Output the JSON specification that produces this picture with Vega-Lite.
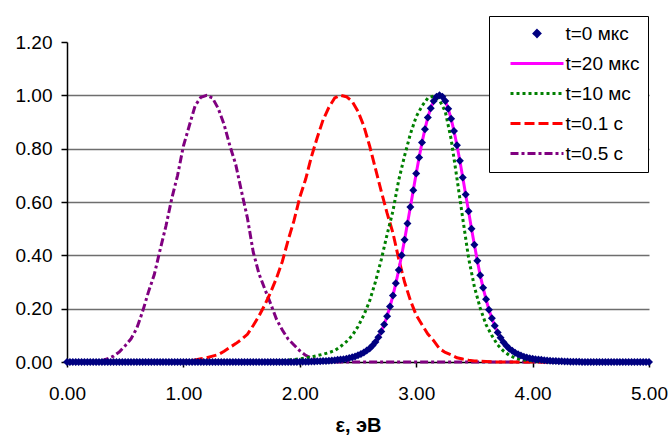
{
"$schema": "https://vega.github.io/schema/vega-lite/v6.json",
"width": 582, "height": 320,
"autosize": "none",
"padding": {"left": 67, "top": 42, "right": 20, "bottom": 74},
"background": "white",
"config": {"font": "Liberation Sans", "view": {"stroke": null},
  "legend": {"orient": "none", "legendX": 422, "legendY": -26, "strokeColor": "black", "fillColor": "white", "padding": 8, "cornerRadius": 0,
    "labelFont": "Liberation Sans", "labelFontSize": 19, "labelColor": "black", "labelOffset": 19, "labelLimit": 300,
    "symbolSize": 256, "symbolStrokeWidth": 3, "symbolOffset": 30.5, "rowPadding": 10}},
"datasets": {
"dots": [
{"s":"t=0 мкс","x":0,"y":0},{"s":"t=0 мкс","x":0.025,"y":0},{"s":"t=0 мкс","x":0.05,"y":0},{"s":"t=0 мкс","x":0.075,"y":0},{"s":"t=0 мкс","x":0.1,"y":0},{"s":"t=0 мкс","x":0.125,"y":0},{"s":"t=0 мкс","x":0.15,"y":0},{"s":"t=0 мкс","x":0.175,"y":0},{"s":"t=0 мкс","x":0.2,"y":0},{"s":"t=0 мкс","x":0.225,"y":0},{"s":"t=0 мкс","x":0.25,"y":0},{"s":"t=0 мкс","x":0.275,"y":0},{"s":"t=0 мкс","x":0.3,"y":0},{"s":"t=0 мкс","x":0.325,"y":0},{"s":"t=0 мкс","x":0.35,"y":0},{"s":"t=0 мкс","x":0.375,"y":0},{"s":"t=0 мкс","x":0.4,"y":0},{"s":"t=0 мкс","x":0.425,"y":0},{"s":"t=0 мкс","x":0.45,"y":0},{"s":"t=0 мкс","x":0.475,"y":0},
{"s":"t=0 мкс","x":0.5,"y":0},{"s":"t=0 мкс","x":0.525,"y":0},{"s":"t=0 мкс","x":0.55,"y":0},{"s":"t=0 мкс","x":0.575,"y":0},{"s":"t=0 мкс","x":0.6,"y":0},{"s":"t=0 мкс","x":0.625,"y":0},{"s":"t=0 мкс","x":0.65,"y":0},{"s":"t=0 мкс","x":0.675,"y":0},{"s":"t=0 мкс","x":0.7,"y":0},{"s":"t=0 мкс","x":0.725,"y":0},{"s":"t=0 мкс","x":0.75,"y":0},{"s":"t=0 мкс","x":0.775,"y":0},{"s":"t=0 мкс","x":0.8,"y":0},{"s":"t=0 мкс","x":0.825,"y":0},{"s":"t=0 мкс","x":0.85,"y":0},{"s":"t=0 мкс","x":0.875,"y":0},{"s":"t=0 мкс","x":0.9,"y":0},{"s":"t=0 мкс","x":0.925,"y":0},{"s":"t=0 мкс","x":0.95,"y":0},{"s":"t=0 мкс","x":0.975,"y":0},
{"s":"t=0 мкс","x":1,"y":0},{"s":"t=0 мкс","x":1.025,"y":0},{"s":"t=0 мкс","x":1.05,"y":0},{"s":"t=0 мкс","x":1.075,"y":0},{"s":"t=0 мкс","x":1.1,"y":0},{"s":"t=0 мкс","x":1.125,"y":0},{"s":"t=0 мкс","x":1.15,"y":0},{"s":"t=0 мкс","x":1.175,"y":0},{"s":"t=0 мкс","x":1.2,"y":0},{"s":"t=0 мкс","x":1.225,"y":0},{"s":"t=0 мкс","x":1.25,"y":0},{"s":"t=0 мкс","x":1.275,"y":0},{"s":"t=0 мкс","x":1.3,"y":0},{"s":"t=0 мкс","x":1.325,"y":0},{"s":"t=0 мкс","x":1.35,"y":0},{"s":"t=0 мкс","x":1.375,"y":0},{"s":"t=0 мкс","x":1.4,"y":0},{"s":"t=0 мкс","x":1.425,"y":0},{"s":"t=0 мкс","x":1.45,"y":0},{"s":"t=0 мкс","x":1.475,"y":0},
{"s":"t=0 мкс","x":1.5,"y":0},{"s":"t=0 мкс","x":1.525,"y":0},{"s":"t=0 мкс","x":1.55,"y":0},{"s":"t=0 мкс","x":1.575,"y":0},{"s":"t=0 мкс","x":1.6,"y":0},{"s":"t=0 мкс","x":1.625,"y":0},{"s":"t=0 мкс","x":1.65,"y":0},{"s":"t=0 мкс","x":1.675,"y":0},{"s":"t=0 мкс","x":1.7,"y":0},{"s":"t=0 мкс","x":1.725,"y":0},{"s":"t=0 мкс","x":1.75,"y":0},{"s":"t=0 мкс","x":1.775,"y":0},{"s":"t=0 мкс","x":1.8,"y":0},{"s":"t=0 мкс","x":1.825,"y":0},{"s":"t=0 мкс","x":1.85,"y":0},{"s":"t=0 мкс","x":1.875,"y":0},{"s":"t=0 мкс","x":1.9,"y":0},{"s":"t=0 мкс","x":1.925,"y":0},{"s":"t=0 мкс","x":1.95,"y":0},{"s":"t=0 мкс","x":1.975,"y":0},
{"s":"t=0 мкс","x":2,"y":0.001},{"s":"t=0 мкс","x":2.025,"y":0.001},{"s":"t=0 мкс","x":2.05,"y":0.001},{"s":"t=0 мкс","x":2.075,"y":0.001},{"s":"t=0 мкс","x":2.1,"y":0.002},{"s":"t=0 мкс","x":2.125,"y":0.002},{"s":"t=0 мкс","x":2.15,"y":0.003},{"s":"t=0 мкс","x":2.175,"y":0.003},{"s":"t=0 мкс","x":2.2,"y":0.004},{"s":"t=0 мкс","x":2.225,"y":0.004},{"s":"t=0 мкс","x":2.25,"y":0.005},{"s":"t=0 мкс","x":2.275,"y":0.006},{"s":"t=0 мкс","x":2.3,"y":0.007},{"s":"t=0 мкс","x":2.325,"y":0.008},{"s":"t=0 мкс","x":2.35,"y":0.009},{"s":"t=0 мкс","x":2.375,"y":0.01},{"s":"t=0 мкс","x":2.4,"y":0.012},{"s":"t=0 мкс","x":2.425,"y":0.015},{"s":"t=0 мкс","x":2.45,"y":0.018},{"s":"t=0 мкс","x":2.475,"y":0.021},
{"s":"t=0 мкс","x":2.5,"y":0.025},{"s":"t=0 мкс","x":2.525,"y":0.03},{"s":"t=0 мкс","x":2.55,"y":0.036},{"s":"t=0 мкс","x":2.575,"y":0.043},{"s":"t=0 мкс","x":2.6,"y":0.051},{"s":"t=0 мкс","x":2.625,"y":0.062},{"s":"t=0 мкс","x":2.65,"y":0.075},{"s":"t=0 мкс","x":2.675,"y":0.093},{"s":"t=0 мкс","x":2.7,"y":0.114},{"s":"t=0 мкс","x":2.725,"y":0.141},{"s":"t=0 мкс","x":2.75,"y":0.172},{"s":"t=0 мкс","x":2.775,"y":0.208},{"s":"t=0 мкс","x":2.8,"y":0.249},{"s":"t=0 мкс","x":2.825,"y":0.295},{"s":"t=0 мкс","x":2.85,"y":0.345},{"s":"t=0 мкс","x":2.875,"y":0.4},{"s":"t=0 мкс","x":2.9,"y":0.458},{"s":"t=0 мкс","x":2.925,"y":0.519},{"s":"t=0 мкс","x":2.95,"y":0.581},{"s":"t=0 мкс","x":2.975,"y":0.644},
{"s":"t=0 мкс","x":3,"y":0.707},{"s":"t=0 мкс","x":3.025,"y":0.767},{"s":"t=0 мкс","x":3.05,"y":0.823},{"s":"t=0 мкс","x":3.075,"y":0.873},{"s":"t=0 мкс","x":3.1,"y":0.917},{"s":"t=0 мкс","x":3.125,"y":0.952},{"s":"t=0 мкс","x":3.15,"y":0.979},{"s":"t=0 мкс","x":3.175,"y":0.995},{"s":"t=0 мкс","x":3.2,"y":1},{"s":"t=0 мкс","x":3.225,"y":0.995},{"s":"t=0 мкс","x":3.25,"y":0.979},{"s":"t=0 мкс","x":3.275,"y":0.95},{"s":"t=0 мкс","x":3.3,"y":0.912},{"s":"t=0 мкс","x":3.325,"y":0.866},{"s":"t=0 мкс","x":3.35,"y":0.813},{"s":"t=0 мкс","x":3.375,"y":0.755},{"s":"t=0 мкс","x":3.4,"y":0.692},{"s":"t=0 мкс","x":3.425,"y":0.628},{"s":"t=0 мкс","x":3.45,"y":0.565},{"s":"t=0 мкс","x":3.475,"y":0.5},
{"s":"t=0 мкс","x":3.5,"y":0.44},{"s":"t=0 мкс","x":3.525,"y":0.38},{"s":"t=0 мкс","x":3.55,"y":0.325},{"s":"t=0 мкс","x":3.575,"y":0.278},{"s":"t=0 мкс","x":3.6,"y":0.235},{"s":"t=0 мкс","x":3.625,"y":0.196},{"s":"t=0 мкс","x":3.65,"y":0.164},{"s":"t=0 мкс","x":3.675,"y":0.136},{"s":"t=0 мкс","x":3.7,"y":0.111},{"s":"t=0 мкс","x":3.725,"y":0.091},{"s":"t=0 мкс","x":3.75,"y":0.074},{"s":"t=0 мкс","x":3.775,"y":0.061},{"s":"t=0 мкс","x":3.8,"y":0.05},{"s":"t=0 мкс","x":3.825,"y":0.042},{"s":"t=0 мкс","x":3.85,"y":0.035},{"s":"t=0 мкс","x":3.875,"y":0.029},{"s":"t=0 мкс","x":3.9,"y":0.024},{"s":"t=0 мкс","x":3.925,"y":0.02},{"s":"t=0 мкс","x":3.95,"y":0.017},{"s":"t=0 мкс","x":3.975,"y":0.014},
{"s":"t=0 мкс","x":4,"y":0.012},{"s":"t=0 мкс","x":4.025,"y":0.01},{"s":"t=0 мкс","x":4.05,"y":0.009},{"s":"t=0 мкс","x":4.075,"y":0.008},{"s":"t=0 мкс","x":4.1,"y":0.007},{"s":"t=0 мкс","x":4.125,"y":0.006},{"s":"t=0 мкс","x":4.15,"y":0.005},{"s":"t=0 мкс","x":4.175,"y":0.004},{"s":"t=0 мкс","x":4.2,"y":0.004},{"s":"t=0 мкс","x":4.225,"y":0.003},{"s":"t=0 мкс","x":4.25,"y":0.003},{"s":"t=0 мкс","x":4.275,"y":0.002},{"s":"t=0 мкс","x":4.3,"y":0.002},{"s":"t=0 мкс","x":4.325,"y":0.001},{"s":"t=0 мкс","x":4.35,"y":0.001},{"s":"t=0 мкс","x":4.375,"y":0.001},{"s":"t=0 мкс","x":4.4,"y":0.001},{"s":"t=0 мкс","x":4.425,"y":0},{"s":"t=0 мкс","x":4.45,"y":0},{"s":"t=0 мкс","x":4.475,"y":0},
{"s":"t=0 мкс","x":4.5,"y":0},{"s":"t=0 мкс","x":4.525,"y":0},{"s":"t=0 мкс","x":4.55,"y":0},{"s":"t=0 мкс","x":4.575,"y":0},{"s":"t=0 мкс","x":4.6,"y":0},{"s":"t=0 мкс","x":4.625,"y":0},{"s":"t=0 мкс","x":4.65,"y":0},{"s":"t=0 мкс","x":4.675,"y":0},{"s":"t=0 мкс","x":4.7,"y":0},{"s":"t=0 мкс","x":4.725,"y":0},{"s":"t=0 мкс","x":4.75,"y":0},{"s":"t=0 мкс","x":4.775,"y":0},{"s":"t=0 мкс","x":4.8,"y":0},{"s":"t=0 мкс","x":4.825,"y":0},{"s":"t=0 мкс","x":4.85,"y":0},{"s":"t=0 мкс","x":4.875,"y":0},{"s":"t=0 мкс","x":4.9,"y":0},{"s":"t=0 мкс","x":4.925,"y":0},{"s":"t=0 мкс","x":4.95,"y":0},{"s":"t=0 мкс","x":4.975,"y":0},{"s":"t=0 мкс","x":5,"y":0}
],
"lines": [
{"s":"t=0.5 с","x":0,"y":0},{"s":"t=0.5 с","x":0.15,"y":0},{"s":"t=0.5 с","x":0.2,"y":0.001},{"s":"t=0.5 с","x":0.25,"y":0.002},{"s":"t=0.5 с","x":0.3,"y":0.005},{"s":"t=0.5 с","x":0.35,"y":0.012},{"s":"t=0.5 с","x":0.4,"y":0.022},{"s":"t=0.5 с","x":0.45,"y":0.038},{"s":"t=0.5 с","x":0.5,"y":0.061},{"s":"t=0.5 с","x":0.55,"y":0.087},
{"s":"t=0.5 с","x":0.6,"y":0.127},{"s":"t=0.5 с","x":0.65,"y":0.19},{"s":"t=0.5 с","x":0.7,"y":0.263},{"s":"t=0.5 с","x":0.75,"y":0.328},{"s":"t=0.5 с","x":0.8,"y":0.421},{"s":"t=0.5 с","x":0.85,"y":0.51},{"s":"t=0.5 с","x":0.9,"y":0.613},{"s":"t=0.5 с","x":0.95,"y":0.7},{"s":"t=0.5 с","x":1,"y":0.81},{"s":"t=0.5 с","x":1.05,"y":0.885},
{"s":"t=0.5 с","x":1.1,"y":0.96},{"s":"t=0.5 с","x":1.15,"y":0.993},{"s":"t=0.5 с","x":1.2,"y":1},{"s":"t=0.5 с","x":1.25,"y":0.99},{"s":"t=0.5 с","x":1.3,"y":0.95},{"s":"t=0.5 с","x":1.35,"y":0.89},{"s":"t=0.5 с","x":1.4,"y":0.81},{"s":"t=0.5 с","x":1.45,"y":0.74},{"s":"t=0.5 с","x":1.5,"y":0.638},{"s":"t=0.5 с","x":1.55,"y":0.54},
{"s":"t=0.5 с","x":1.6,"y":0.412},{"s":"t=0.5 с","x":1.65,"y":0.33},{"s":"t=0.5 с","x":1.7,"y":0.273},{"s":"t=0.5 с","x":1.75,"y":0.218},{"s":"t=0.5 с","x":1.8,"y":0.16},{"s":"t=0.5 с","x":1.85,"y":0.12},{"s":"t=0.5 с","x":1.9,"y":0.086},{"s":"t=0.5 с","x":1.95,"y":0.064},{"s":"t=0.5 с","x":2,"y":0.042},{"s":"t=0.5 с","x":2.05,"y":0.025},
{"s":"t=0.5 с","x":2.1,"y":0.014},{"s":"t=0.5 с","x":2.15,"y":0.007},{"s":"t=0.5 с","x":2.2,"y":0.003},{"s":"t=0.5 с","x":2.25,"y":0.001},{"s":"t=0.5 с","x":2.3,"y":0},{"s":"t=0.5 с","x":5,"y":0},
{"s":"t=0.1 с","x":0,"y":0},{"s":"t=0.1 с","x":0.85,"y":0},{"s":"t=0.1 с","x":0.9,"y":0.001},{"s":"t=0.1 с","x":0.95,"y":0.002},{"s":"t=0.1 с","x":1,"y":0.003},{"s":"t=0.1 с","x":1.05,"y":0.005},{"s":"t=0.1 с","x":1.1,"y":0.008},{"s":"t=0.1 с","x":1.15,"y":0.012},{"s":"t=0.1 с","x":1.2,"y":0.016},{"s":"t=0.1 с","x":1.25,"y":0.022},
{"s":"t=0.1 с","x":1.3,"y":0.028},{"s":"t=0.1 с","x":1.35,"y":0.04},{"s":"t=0.1 с","x":1.4,"y":0.055},{"s":"t=0.1 с","x":1.45,"y":0.069},{"s":"t=0.1 с","x":1.5,"y":0.085},{"s":"t=0.1 с","x":1.55,"y":0.104},{"s":"t=0.1 с","x":1.6,"y":0.137},{"s":"t=0.1 с","x":1.65,"y":0.173},{"s":"t=0.1 с","x":1.7,"y":0.215},{"s":"t=0.1 с","x":1.75,"y":0.262},
{"s":"t=0.1 с","x":1.8,"y":0.315},{"s":"t=0.1 с","x":1.85,"y":0.377},{"s":"t=0.1 с","x":1.9,"y":0.457},{"s":"t=0.1 с","x":1.95,"y":0.53},{"s":"t=0.1 с","x":2,"y":0.618},{"s":"t=0.1 с","x":2.05,"y":0.685},{"s":"t=0.1 с","x":2.1,"y":0.77},{"s":"t=0.1 с","x":2.15,"y":0.842},{"s":"t=0.1 с","x":2.2,"y":0.908},{"s":"t=0.1 с","x":2.25,"y":0.955},
{"s":"t=0.1 с","x":2.3,"y":0.99},{"s":"t=0.1 с","x":2.35,"y":1},{"s":"t=0.1 с","x":2.4,"y":0.995},{"s":"t=0.1 с","x":2.45,"y":0.977},{"s":"t=0.1 с","x":2.5,"y":0.94},{"s":"t=0.1 с","x":2.55,"y":0.885},{"s":"t=0.1 с","x":2.6,"y":0.81},{"s":"t=0.1 с","x":2.65,"y":0.725},{"s":"t=0.1 с","x":2.7,"y":0.64},{"s":"t=0.1 с","x":2.75,"y":0.558},
{"s":"t=0.1 с","x":2.8,"y":0.484},{"s":"t=0.1 с","x":2.85,"y":0.386},{"s":"t=0.1 с","x":2.9,"y":0.3},{"s":"t=0.1 с","x":2.95,"y":0.231},{"s":"t=0.1 с","x":3,"y":0.176},{"s":"t=0.1 с","x":3.05,"y":0.14},{"s":"t=0.1 с","x":3.1,"y":0.105},{"s":"t=0.1 с","x":3.15,"y":0.08},{"s":"t=0.1 с","x":3.2,"y":0.05},{"s":"t=0.1 с","x":3.25,"y":0.036},
{"s":"t=0.1 с","x":3.3,"y":0.027},{"s":"t=0.1 с","x":3.35,"y":0.016},{"s":"t=0.1 с","x":3.4,"y":0.011},{"s":"t=0.1 с","x":3.45,"y":0.007},{"s":"t=0.1 с","x":3.5,"y":0.004},{"s":"t=0.1 с","x":3.55,"y":0.003},{"s":"t=0.1 с","x":3.6,"y":0.002},{"s":"t=0.1 с","x":3.65,"y":0.001},{"s":"t=0.1 с","x":3.7,"y":0},{"s":"t=0.1 с","x":5,"y":0},
{"s":"t=10 мс","x":0,"y":0},{"s":"t=10 мс","x":1.65,"y":0},{"s":"t=10 мс","x":1.7,"y":0.002},{"s":"t=10 мс","x":1.75,"y":0.003},{"s":"t=10 мс","x":1.8,"y":0.004},{"s":"t=10 мс","x":1.85,"y":0.005},{"s":"t=10 мс","x":1.9,"y":0.007},{"s":"t=10 мс","x":1.95,"y":0.009},{"s":"t=10 мс","x":2,"y":0.012},{"s":"t=10 мс","x":2.05,"y":0.015},
{"s":"t=10 мс","x":2.1,"y":0.019},{"s":"t=10 мс","x":2.15,"y":0.024},{"s":"t=10 мс","x":2.2,"y":0.029},{"s":"t=10 мс","x":2.25,"y":0.035},{"s":"t=10 мс","x":2.3,"y":0.043},{"s":"t=10 мс","x":2.35,"y":0.058},{"s":"t=10 мс","x":2.4,"y":0.076},{"s":"t=10 мс","x":2.45,"y":0.099},{"s":"t=10 мс","x":2.5,"y":0.133},{"s":"t=10 мс","x":2.55,"y":0.176},
{"s":"t=10 мс","x":2.6,"y":0.229},{"s":"t=10 мс","x":2.65,"y":0.301},{"s":"t=10 мс","x":2.7,"y":0.384},{"s":"t=10 мс","x":2.75,"y":0.478},{"s":"t=10 мс","x":2.8,"y":0.566},{"s":"t=10 мс","x":2.85,"y":0.682},{"s":"t=10 мс","x":2.9,"y":0.773},{"s":"t=10 мс","x":2.95,"y":0.855},{"s":"t=10 мс","x":3,"y":0.92},{"s":"t=10 мс","x":3.05,"y":0.96},
{"s":"t=10 мс","x":3.1,"y":0.99},{"s":"t=10 мс","x":3.15,"y":0.997},{"s":"t=10 мс","x":3.2,"y":0.982},{"s":"t=10 мс","x":3.25,"y":0.939},{"s":"t=10 мс","x":3.3,"y":0.836},{"s":"t=10 мс","x":3.35,"y":0.689},{"s":"t=10 мс","x":3.4,"y":0.538},{"s":"t=10 мс","x":3.45,"y":0.39},{"s":"t=10 мс","x":3.5,"y":0.282},{"s":"t=10 мс","x":3.55,"y":0.202},
{"s":"t=10 мс","x":3.6,"y":0.14},{"s":"t=10 мс","x":3.65,"y":0.099},{"s":"t=10 мс","x":3.7,"y":0.064},{"s":"t=10 мс","x":3.75,"y":0.041},{"s":"t=10 мс","x":3.8,"y":0.025},{"s":"t=10 мс","x":3.85,"y":0.015},{"s":"t=10 мс","x":3.9,"y":0.009},{"s":"t=10 мс","x":3.95,"y":0.006},{"s":"t=10 мс","x":4,"y":0.004},{"s":"t=10 мс","x":4.05,"y":0.003},
{"s":"t=10 мс","x":4.1,"y":0.002},{"s":"t=10 мс","x":4.15,"y":0},{"s":"t=10 мс","x":5,"y":0}
]
},
"encoding": {
  "x": {"field": "x", "type": "quantitative",
    "scale": {"domain": [0, 5], "nice": false, "zero": false},
    "axis": {"values": [0, 1, 2, 3, 4, 5], "format": ".2f", "title": "ε, эВ",
      "titleFont": "Liberation Sans", "titleFontSize": 20, "titleFontWeight": "bold", "titleColor": "black", "titlePadding": 12,
      "labelFont": "Liberation Sans", "labelFontSize": 19, "labelColor": "black", "labelPadding": 17, "labelFlush": false,
      "grid": false, "domainColor": "black", "domainWidth": 1.5, "tickColor": "black", "tickSize": 5, "tickWidth": 1.5}},
  "y": {"field": "y", "type": "quantitative",
    "scale": {"domain": [0, 1.2], "nice": false},
    "axis": {"values": [0, 0.2, 0.4, 0.6, 0.8, 1.0, 1.2], "format": ".2f", "title": null,
      "labelFont": "Liberation Sans", "labelFontSize": 19, "labelColor": "black", "labelPadding": 9,
      "grid": true, "gridColor": {"condition": {"test": "datum.value > 1.1 || datum.value < 0.1", "value": "transparent"}, "value": "#6e6e6e"}, "gridWidth": 1.5,
      "domainColor": "black", "domainWidth": 1.5, "tickColor": "black", "tickSize": 6, "tickWidth": 1.5}}
},
"layer": [
  {"data": {"name": "lines"},
   "mark": {"type": "line", "strokeWidth": 3, "strokeCap": "butt"},
   "encoding": {
     "color": {"field": "s", "type": "nominal",
       "scale": {"domain": ["t=0 мкс", "t=20 мкс", "t=10 мс", "t=0.1 с", "t=0.5 с"], "range": ["#000080", "#FF00FF", "#008000", "#FF0000", "#800080"]},
       "legend": {"title": null}},
     "strokeDash": {"field": "s", "type": "nominal",
       "scale": {"domain": ["t=0 мкс", "t=20 мкс", "t=10 мс", "t=0.1 с", "t=0.5 с"], "range": [[1, 0], [1, 0], [3, 3], [10, 4], [8, 3, 3, 3]]},
       "legend": {"title": null}}
   }},
  {"data": {"name": "dots"},
   "mark": {"type": "line", "strokeWidth": 3, "color": "#FF00FF"},
   "encoding": {}},
  {"data": {"name": "dots"},
   "mark": {"type": "point", "filled": true, "size": 522, "opacity": 1},
   "encoding": {
     "color": {"field": "s", "type": "nominal",
       "scale": {"domain": ["t=0 мкс", "t=20 мкс", "t=10 мс", "t=0.1 с", "t=0.5 с"], "range": ["#000080", "#FF00FF", "#008000", "#FF0000", "#800080"]},
       "legend": {"title": null}},
     "shape": {"field": "s", "type": "nominal",
       "scale": {"domain": ["t=0 мкс", "t=20 мкс", "t=10 мс", "t=0.1 с", "t=0.5 с"], "range": ["M-0.35,0L0,-0.35L0.35,0L0,0.35Z", "M-3.3125,0L3.3125,0", "M-3.3125,0L3.3125,0", "M-3.3125,0L3.3125,0", "M-3.3125,0L3.3125,0"]},
       "legend": {"title": null}}
   }}
]
}
